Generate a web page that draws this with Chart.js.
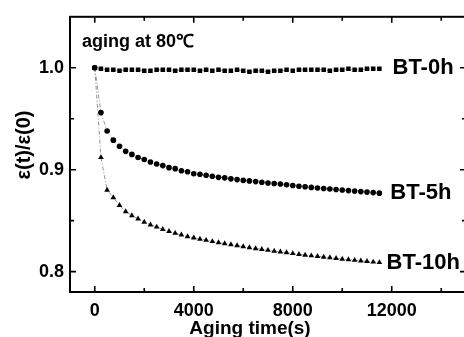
<!DOCTYPE html>
<html>
<head>
<meta charset="utf-8">
<script src="https://cdn.jsdelivr.net/npm/chart.js@4"></script>
<style>
  html, body { margin: 0; padding: 0; background: #fff; overflow: hidden; }
  #wrap { width: 470px; height: 337px; position: relative; }
</style>
</head>
<body>
<div id="wrap"><canvas id="agingChart"></canvas></div>
<script>
// aging time (s)
const times = [0, 250, 500, 750, 1000, 1250, 1500, 1750, 2000, 2250, 2500, 2750,
  3000, 3250, 3500, 3750, 4000, 4250, 4500, 4750, 5000, 5250, 5500, 5750,
  6000, 6250, 6500, 6750, 7000, 7250, 7500, 7750, 8000, 8250, 8500, 8750,
  9000, 9250, 9500, 9750, 10000, 10250, 10500, 10750, 11000, 11250, 11500];

// e(t)/e(0) for each sample
const bt0h = [1.000, 0.999, 0.998, 0.998, 0.997, 0.998, 0.998, 0.998, 0.997, 0.997, 0.998, 0.998,
  0.998, 0.997, 0.998, 0.998, 0.998, 0.997, 0.998, 0.997, 0.998, 0.997, 0.997, 0.998,
  0.997, 0.996, 0.997, 0.997, 0.996, 0.997, 0.997, 0.998, 0.997, 0.998, 0.998, 0.998,
  0.998, 0.998, 0.997, 0.998, 0.998, 0.999, 0.998, 0.998, 0.999, 0.999, 0.999];
const bt5h = [1.000, 0.956, 0.938, 0.929, 0.923, 0.918, 0.915, 0.912, 0.910, 0.9075, 0.9056, 0.904,
  0.902, 0.901, 0.899, 0.898, 0.896, 0.8955, 0.8945, 0.8935, 0.8925, 0.892, 0.891, 0.8903,
  0.8895, 0.889, 0.8883, 0.8877, 0.887, 0.8865, 0.886, 0.8852, 0.8845, 0.8838, 0.8832, 0.8826,
  0.882, 0.8815, 0.881, 0.8805, 0.880, 0.8795, 0.879, 0.8785, 0.878, 0.8775, 0.877];
const bt10h = [1.000, 0.912, 0.880, 0.8727, 0.865, 0.859, 0.855, 0.8518, 0.8486, 0.846, 0.8438, 0.8415,
  0.8396, 0.8377, 0.836, 0.8344, 0.8331, 0.832, 0.8308, 0.8296, 0.8285, 0.8275, 0.8265, 0.8255,
  0.8245, 0.8236, 0.8227, 0.8218, 0.821, 0.8202, 0.8194, 0.8186, 0.8178, 0.817, 0.8163, 0.8156,
  0.815, 0.8143, 0.8137, 0.813, 0.8124, 0.8118, 0.8112, 0.8106, 0.81, 0.8095, 0.809];

const seriesNames = ['BT-0h', 'BT-5h', 'BT-10h'];

// tick values
const xMajorTicks = [0, 4000, 8000, 12000];
const xMinorTicks = [2000, 6000, 10000, 14000];
const yMajorTicks = [0.8, 0.9, 1.0];
const yMinorTicks = [0.85, 0.95];

const boldFont = "'Liberation Sans', Arial, sans-serif";

const toPoints = vals => vals.map((v, i) => ({ x: times[i], y: v }));

const lineStyle = {
    showLine: true,
    borderColor: '#777',
    borderWidth: 0.8,
    borderDash: [4, 2, 1, 2],
    pointBackgroundColor: '#000',
    pointBorderColor: '#000',
    pointBorderWidth: 0
};

// frame, inward ticks and the text labels
const framePlugin = {
    id: 'frame',
    afterDatasetsDraw(chart) {
        const { ctx, chartArea: a, scales: { x, y } } = chart;
        ctx.save();
        ctx.strokeStyle = '#000';
        ctx.lineWidth = 2;
        ctx.strokeRect(a.left, a.top, a.right - a.left, a.bottom - a.top);

        ctx.lineWidth = 1.6;
        ctx.beginPath();
        const tickX = (v, len) => {
            const px = x.getPixelForValue(v);
            ctx.moveTo(px, a.bottom); ctx.lineTo(px, a.bottom - len);
            ctx.moveTo(px, a.top); ctx.lineTo(px, a.top + len);
        };
        const tickY = (v, len) => {
            const py = y.getPixelForValue(v);
            ctx.moveTo(a.left, py); ctx.lineTo(a.left + len, py);
            ctx.moveTo(a.right, py); ctx.lineTo(a.right - len, py);
        };
        xMajorTicks.forEach(v => tickX(v, 6));
        xMinorTicks.forEach(v => tickX(v, 4));
        yMajorTicks.forEach(v => tickY(v, 6));
        yMinorTicks.forEach(v => tickY(v, 4));
        ctx.stroke();

        ctx.fillStyle = '#000';
        ctx.textBaseline = 'middle';
        ctx.textAlign = 'left';
        ctx.font = 'bold 22px ' + boldFont;
        ctx.fillText(seriesNames[0], x.getPixelForValue(12030), y.getPixelForValue(1.0));
        ctx.fillText(seriesNames[1], x.getPixelForValue(11940), y.getPixelForValue(0.8775));
        ctx.fillText(seriesNames[2], x.getPixelForValue(11790), y.getPixelForValue(0.8085));

        ctx.textBaseline = 'alphabetic';
        ctx.font = 'bold 18px ' + boldFont;
        ctx.fillText('aging at 80\u2103', a.left + 12, a.top + 30);

        // axis titles
        ctx.textAlign = 'center';
        ctx.font = 'bold 19px ' + boldFont;
        ctx.fillText('Aging time(s)', 250, 334);

        ctx.translate(30, 145);
        ctx.rotate(-Math.PI / 2);
        ctx.font = 'bold 20px ' + boldFont;
        ctx.fillText('\u03b5(t)/\u03b5(0)', 0, 0);
        ctx.restore();
    }
};

const ctxAging = document.getElementById('agingChart');
new Chart(ctxAging, {
    type: 'scatter',
    data: {
        datasets: [
            { ...lineStyle, label: seriesNames[0], data: toPoints(bt0h), pointStyle: 'rect', pointRadius: 3.2 },
            { ...lineStyle, label: seriesNames[1], data: toPoints(bt5h), pointStyle: 'circle', pointRadius: 2.8 },
            { ...lineStyle, label: seriesNames[2], data: toPoints(bt10h), pointStyle: 'triangle', pointRadius: 3.3 }
        ]
    },
    options: {
        responsive: true,
        maintainAspectRatio: false,
        animation: false,
        layout: { padding: { top: 12, right: 4, left: 0, bottom: 0 } },
        plugins: {
            legend: { display: false },
            tooltip: { enabled: false }
        },
        scales: {
            x: {
                type: 'linear',
                min: -1000,
                max: 15000,
                grid: { display: false, drawTicks: false },
                border: { display: false },
                afterBuildTicks: s => { s.ticks = xMajorTicks.map(v => ({ value: v })); },
                afterFit: s => { s.height = 45; },
                ticks: {
                    padding: 8,
                    color: '#000',
                    font: { family: boldFont, size: 18, weight: 'bold' },
                    maxRotation: 0,
                    autoSkip: false,
                    callback: v => String(v)
                }
            },
            y: {
                min: 0.78,
                max: 1.05,
                grid: { display: false, drawTicks: false },
                border: { display: false },
                afterBuildTicks: s => { s.ticks = yMajorTicks.map(v => ({ value: v })); },
                afterFit: s => { s.width = 70; },
                ticks: {
                    padding: 6,
                    color: '#000',
                    font: { family: boldFont, size: 18, weight: 'bold' },
                    callback: v => v.toFixed(1)
                }
            }
        }
    },
    plugins: [framePlugin]
});
</script>
</body>
</html>
